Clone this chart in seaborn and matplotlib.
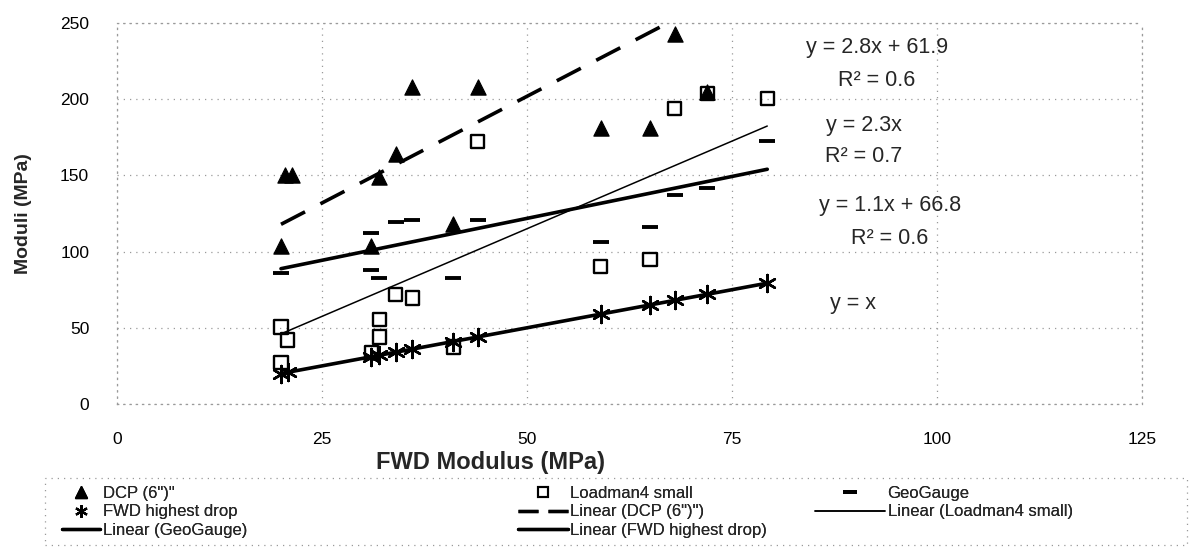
import matplotlib
matplotlib.use("Agg")
import matplotlib.pyplot as plt
from matplotlib.lines import Line2D
from matplotlib.patches import Rectangle
import seaborn as sns
import pandas as pd

# FWD modulus (x) against each companion device modulus (y), MPa
dcp_x = [20, 20.5, 21.3, 31, 32, 34, 36, 41, 44, 59, 65, 68, 72]
dcp_y = [104, 150, 150, 104, 149, 164, 208, 118, 208, 181, 181, 243, 205]

loadman_x = [20, 20.8, 20, 31, 32, 32, 34, 36, 41, 44, 59, 65, 68, 72, 79.3]
loadman_y = [50.5, 42, 27, 34, 55.7, 44, 72, 69.5, 37.4, 172.5, 90, 95, 194, 204, 200.6]

geo_x = [20, 31, 31, 32, 34, 36, 41, 44, 59, 65, 68, 72, 79.3]
geo_y = [86, 112, 88, 83, 119.5, 121, 83, 121, 106, 116, 137, 142, 172.5]

fwd_x = [20, 20.8, 31, 32, 34, 36, 41, 44, 59, 65, 68, 72, 79.3]
fwd_y = [20, 20.8, 31, 32, 34, 36, 41, 44, 59, 65, 68, 72, 79.3]

# Linear trendline coefficients and their fit labels
trend_slope = [2.8, 2.3, 1.1, 1.0]
trend_icept = [61.9, 0.0, 66.8, 0.0]
eq_labels = ["y = 2.8x + 61.9", "y = 2.3x", "y = 1.1x + 66.8", "y = x"]
r2_labels = ["R² = 0.6", "R² = 0.7", "R² = 0.6", None]

x_ticks = [0, 25, 50, 75, 100, 125]
y_ticks = [0, 50, 100, 150, 200, 250]

sns.set_theme(style="white")
plt.rcParams["font.family"] = ["Liberation Sans", "DejaVu Sans"]

W, H = 1189, 547
fig = plt.figure(figsize=(W / 100, H / 100), dpi=100)
ax = fig.add_axes([117 / W, 1 - 404 / H, (1142 - 117) / W, (404 - 23) / H])

grid_style = dict(color="#9a9a9a", linestyle=(0, (1, 4)), linewidth=0.9)
ax.grid(True, **grid_style)
for s in ax.spines.values():
    s.set_color("#9a9a9a")
    s.set_linestyle((0, (1, 4)))
    s.set_linewidth(0.9)

# trendlines over each series' x range
series_x = [dcp_x, loadman_x, geo_x, fwd_x]
line_kw = [
    dict(linewidth=2.6, linestyle=(0, (7.5, 4.8))),
    dict(linewidth=1.1, linestyle="-"),
    dict(linewidth=2.6, linestyle="-"),
    dict(linewidth=2.6, linestyle="-"),
]
for xs, m, b, kw in zip(series_x, trend_slope, trend_icept, line_kw):
    lo, hi = min(xs), max(xs)
    df = pd.DataFrame({"x": [lo, hi], "y": [m * lo + b, m * hi + b]})
    sns.lineplot(data=df, x="x", y="y", ax=ax, color="black", zorder=2, **kw)

# measured points
sns.scatterplot(x=dcp_x, y=dcp_y, ax=ax, marker="^", s=120, color="black",
                edgecolor="black", zorder=3)
sns.scatterplot(x=loadman_x, y=loadman_y, ax=ax, marker="s", s=90, color="none",
                edgecolor="black", linewidth=1.7, zorder=3)
sns.scatterplot(x=geo_x, y=geo_y, ax=ax, marker="_", s=130, color="black",
                linewidth=2.8, zorder=3)
sns.scatterplot(x=fwd_x, y=fwd_y, ax=ax, marker=(6, 2, 0), s=150, color="black",
                linewidth=1.8, zorder=3)

ax.set_xlim(0, 125)
ax.set_ylim(0, 250)
ax.set_xticks(x_ticks)
ax.set_yticks(y_ticks)
ax.tick_params(axis="both", length=0, labelsize=12.5, colors="black")
ax.tick_params(axis="y", pad=20)
ax.tick_params(axis="x", pad=20)
ax.set_xlabel("")
ax.set_ylabel("Moduli (MPa)", fontsize=14, fontweight="bold", labelpad=20)

# trendline equations (pixel rows of each text line)
eq_cx = [877, 864, 890, 853]
eq_rows = [(47, 80), (125, 157), (205, 238), (303, None)]
for cx, (r1, r2), eq, r2txt in zip(eq_cx, eq_rows, eq_labels, r2_labels):
    fig.text(cx / W, 1 - r1 / H, eq, ha="center", va="center", fontsize=15.5)
    if r2txt:
        fig.text(cx / W, 1 - r2 / H, r2txt, ha="center", va="center", fontsize=15.5)

fig.text(491 / W, 1 - 463 / H, "FWD Modulus (MPa)", ha="center", va="center",
         fontsize=17, fontweight="bold")

# legend handles
h_dcp = Line2D([], [], marker="^", color="black", linestyle="none", markersize=8)
h_load = Line2D([], [], marker="s", markerfacecolor="none", markeredgecolor="black",
                markeredgewidth=1.5, linestyle="none", markersize=7)
h_geo = Line2D([], [], marker="_", color="black", linestyle="none", markersize=10,
               markeredgewidth=2.8)
h_fwd = Line2D([], [], marker=(6, 2, 0), color="black", linestyle="none",
               markersize=9, markeredgewidth=1.5)
h_ldcp = Line2D([], [], color="black", linewidth=2.4, linestyle=(0, (6, 3)))
h_lload = Line2D([], [], color="black", linewidth=1.1)
h_lgeo = Line2D([], [], color="black", linewidth=2.4)
h_lfwd = Line2D([], [], color="black", linewidth=2.4)

leg_fs = 12
leg_cols = [
    (62, 2.3, [h_dcp, h_fwd, h_lgeo],
     ["DCP (6\")\"", "FWD highest drop", "Linear (GeoGauge)"]),
    (518, 3.0, [h_load, h_ldcp, h_lfwd],
     ["Loadman4 small", "Linear (DCP (6\")\")", "Linear (FWD highest drop)"]),
    (815, 4.2, [h_geo, h_lload],
     ["GeoGauge", "Linear (Loadman4 small)"]),
]
for x0, hl, hs, ls in leg_cols:
    lg = fig.legend(hs, ls, loc="upper left", bbox_to_anchor=(x0 / W, 1 - 486 / H),
                    frameon=False, fontsize=leg_fs, handlelength=hl,
                    handletextpad=0.15, labelspacing=0.2, borderpad=0,
                    borderaxespad=0)
    fig.add_artist(lg)

fig.patches.append(Rectangle((45 / W, 0.004), 1 - 45 / W - 0.002, 1 - 478 / H - 0.004,
                             transform=fig.transFigure, fill=False,
                             edgecolor="#9a9a9a", linestyle=(0, (1, 4)),
                             linewidth=0.9))

fig.savefig("out.png", dpi=100)
